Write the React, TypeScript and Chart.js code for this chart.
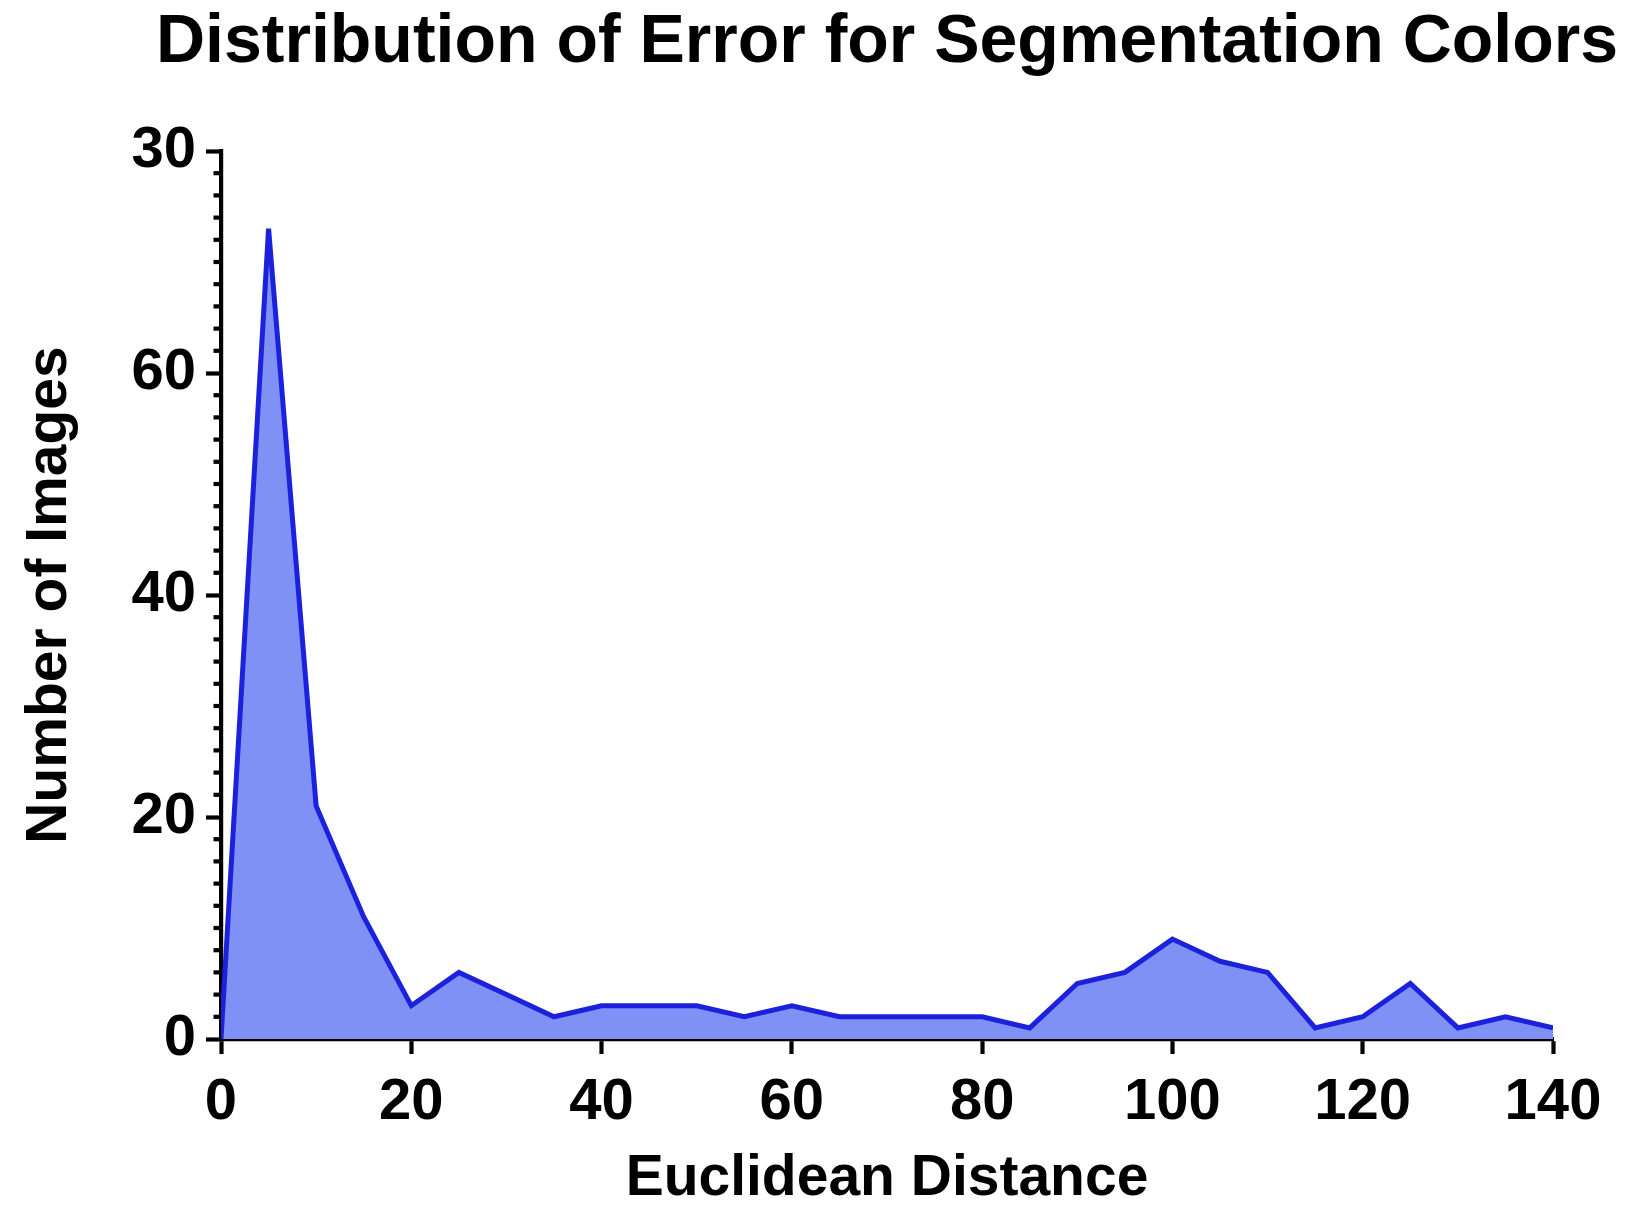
import React, { useEffect, useRef } from "react";
import { Chart, registerables } from "chart.js";

Chart.register(...registerables);

const distances = [0, 5, 10, 15, 20, 25, 30, 35, 40, 45, 50, 55, 60, 65, 70, 75, 80, 85, 90, 95, 100, 105, 110, 115, 120, 125, 130, 135, 140];
const imageCounts = [0, 73, 21, 11, 3, 6, 4, 2, 3, 3, 3, 2, 3, 2, 2, 2, 2, 1, 5, 6, 9, 7, 6, 1, 2, 5, 1, 2, 1];
const yTickValues = [0, 20, 40, 60, 80];
const yTickLabels = ["0", "20", "40", "60", "30"];
const xTickLabels = ["0", "20", "40", "60", "80", "100", "120", "140"];

const FONT = "'Liberation Sans', Arial, Helvetica, sans-serif";

const minorTicks = {
  id: "minorTicks",
  afterDraw(chart: any) {
    const y = chart.scales.y;
    const ctx = chart.ctx;
    const left = chart.chartArea.left;
    ctx.save();
    ctx.strokeStyle = "#000";
    ctx.lineWidth = 4.2;
    for (let v = 0; v <= 80; v += 2) {
      if (v % 20 === 0) continue;
      const py = y.getPixelForValue(v);
      ctx.beginPath();
      ctx.moveTo(left - 7.5, py);
      ctx.lineTo(left, py);
      ctx.stroke();
    }
    ctx.restore();
  },
};

// let the title (centred over the plot area) overflow the plot width without being squeezed
const widenTitle = {
  id: "widenTitle",
  afterLayout(chart: any) {
    const t = chart.titleBlock;
    if (t) {
      t.left -= 200;
      t.right += 200;
      t.width = t.right - t.left;
    }
  },
};

export default function App() {
  const ref = useRef<HTMLCanvasElement | null>(null);
  useEffect(() => {
    if (!ref.current) return;
    const chart = new Chart(ref.current, {
      type: "line",
      data: {
        datasets: [
          {
            data: distances.map((d, i) => ({ x: d, y: imageCounts[i] })),
            borderColor: "#1c22dc",
            backgroundColor: "#8091f6",
            borderWidth: 5,
            fill: "origin",
            tension: 0,
            pointRadius: 0,
          },
        ],
      },
      options: {
        animation: false,
        responsive: true,
        maintainAspectRatio: false,
        layout: { padding: { top: 9, right: 79, bottom: 0, left: 0 } },
        plugins: {
          legend: { display: false },
          tooltip: { enabled: false },
          title: {
            display: true,
            text: "Distribution of Error for Segmentation Colors",
            color: "#000",
            fullSize: false,
            font: { family: FONT, size: 68, weight: "bold", lineHeight: 1 },
            padding: { top: 0, bottom: 74 },
          },
        },
        scales: {
          x: {
            type: "linear",
            min: 0,
            max: 140,
            afterFit: (s: any) => {
              s.height = 177;
            },
            afterBuildTicks: (s: any) => {
              s.ticks = xTickLabels.map((t) => ({ value: Number(t) }));
            },
            ticks: {
              color: "#000",
              font: { family: FONT, size: 58, weight: "bold" },
              padding: 14,
              maxRotation: 0,
              autoSkip: false,
              callback: (v: any, i: number) => xTickLabels[i],
            },
            grid: {
              display: true,
              drawOnChartArea: false,
              drawTicks: true,
              tickLength: 15,
              tickWidth: 4.2,
              tickColor: "#000",
            },
            border: { display: true, color: "#000", width: 4.2 },
            title: {
              display: true,
              text: "Euclidean Distance",
              color: "#000",
              font: { family: FONT, size: 57, weight: "bold" },
              padding: { top: 0, bottom: 3 },
            },
          },
          y: {
            type: "linear",
            min: 0,
            max: 80,
            afterFit: (s: any) => {
              s.width = 221;
            },
            afterBuildTicks: (s: any) => {
              s.ticks = yTickValues.map((v) => ({ value: v }));
            },
            ticks: {
              color: "#000",
              font: { family: FONT, size: 58, weight: "bold" },
              padding: 10,
              autoSkip: false,
              callback: (v: any, i: number) => yTickLabels[i],
            },
            grid: {
              display: true,
              drawOnChartArea: false,
              drawTicks: true,
              tickLength: 15,
              tickWidth: 4.2,
              tickColor: "#000",
            },
            border: { display: true, color: "#000", width: 4.2 },
            title: {
              display: true,
              text: "Number of Images",
              color: "#000",
              font: { family: FONT, size: 57, weight: "bold" },
              padding: { top: 16, bottom: 0 },
            },
          },
        },
      },
      plugins: [minorTicks, widenTitle],
    });
    return () => chart.destroy();
  }, []);
  return (
    <div style={{ position: "fixed", left: 0, top: 0, width: 1632, height: 1216, background: "#fff" }}>
      <canvas ref={ref} />
    </div>
  );
}
